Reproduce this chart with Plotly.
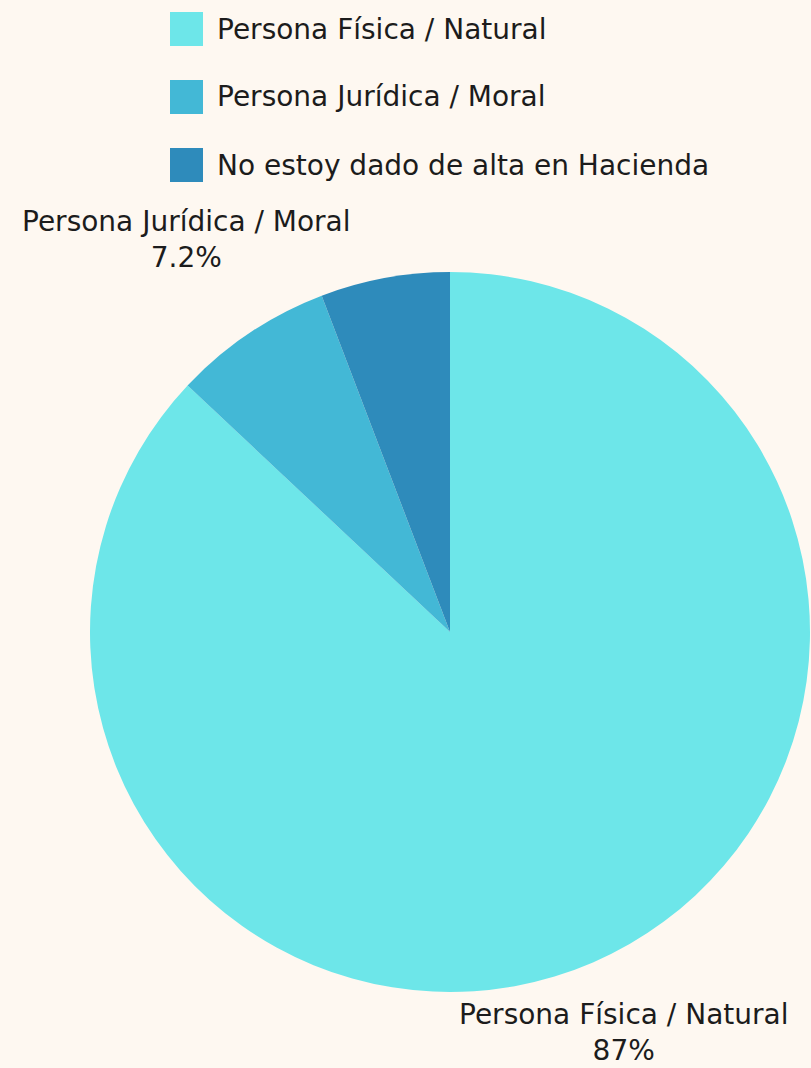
import math
import plotly.graph_objects as go

W, H = 811, 1068
labels = ["Persona Física / Natural", "Persona Jurídica / Moral", "No estoy dado de alta en Hacienda"]
values = [87.0, 7.2, 5.8]
colors = ["#6de6e9", "#43b8d6", "#2e8bbb"]
show_label = [True, True, False]
label_dist = [436, 473, 0]  # px from pie centre to label centre (style)

FONT = "DejaVu Sans, sans-serif"
TXT = "#1c1c1c"
BG = "#fef8f1"
PIE_PX = 720  # plot-area size in px (domain is square)

fig = go.Figure(go.Pie(
    labels=labels, values=values, sort=False, direction="clockwise", rotation=0,
    marker=dict(colors=colors, line=dict(width=0)),
    textinfo="none", automargin=False,
    showlegend=False, hoverinfo="label+percent",
))

# outside slice labels, placed along each slice's mid-angle
total = sum(values)
cum = 0.0
for lab, v, show, d in zip(labels, values, show_label, label_dist):
    mid = (cum + v / 2) / total * 2 * math.pi
    cum += v
    if not show:
        continue
    pct = v / total * 100
    pct_txt = f"{pct:.0f}%" if pct >= 10 else f"{pct:.1f}%"
    fig.add_annotation(text=f"{lab}<br>{pct_txt}", xref="paper", yref="paper",
                       x=0.5 + d * math.sin(mid) / PIE_PX,
                       y=0.5 + d * math.cos(mid) / PIE_PX,
                       xanchor="center", yanchor="middle", showarrow=False,
                       font=dict(family=FONT, size=28, color=TXT))

# manual legend
leg_y = [29, 97, 165]
for lab, col, yc in zip(labels, colors, leg_y):
    fig.add_shape(type="rect", xref="paper", yref="paper",
                  x0=(170 - 90) / PIE_PX, x1=(203 - 90) / PIE_PX,
                  y0=(H - 76 - (yc + 17)) / PIE_PX, y1=(H - 76 - (yc - 17)) / PIE_PX,
                  fillcolor=col, line=dict(width=0))
    fig.add_annotation(text=lab, xref="paper", yref="paper",
                       x=(215 - 90) / PIE_PX, y=(H - 76 - yc) / PIE_PX,
                       xanchor="left", yanchor="middle", showarrow=False,
                       font=dict(family=FONT, size=28, color=TXT))

fig.update_layout(
    width=W, height=H,
    margin=dict(l=90, r=1, t=272, b=76, autoexpand=False),
    paper_bgcolor=BG, plot_bgcolor=BG,
)
fig.write_html("out.html", config={"displayModeBar": False},
               post_script="document.body.style.margin='0';document.body.style.background='%s';" % BG)
